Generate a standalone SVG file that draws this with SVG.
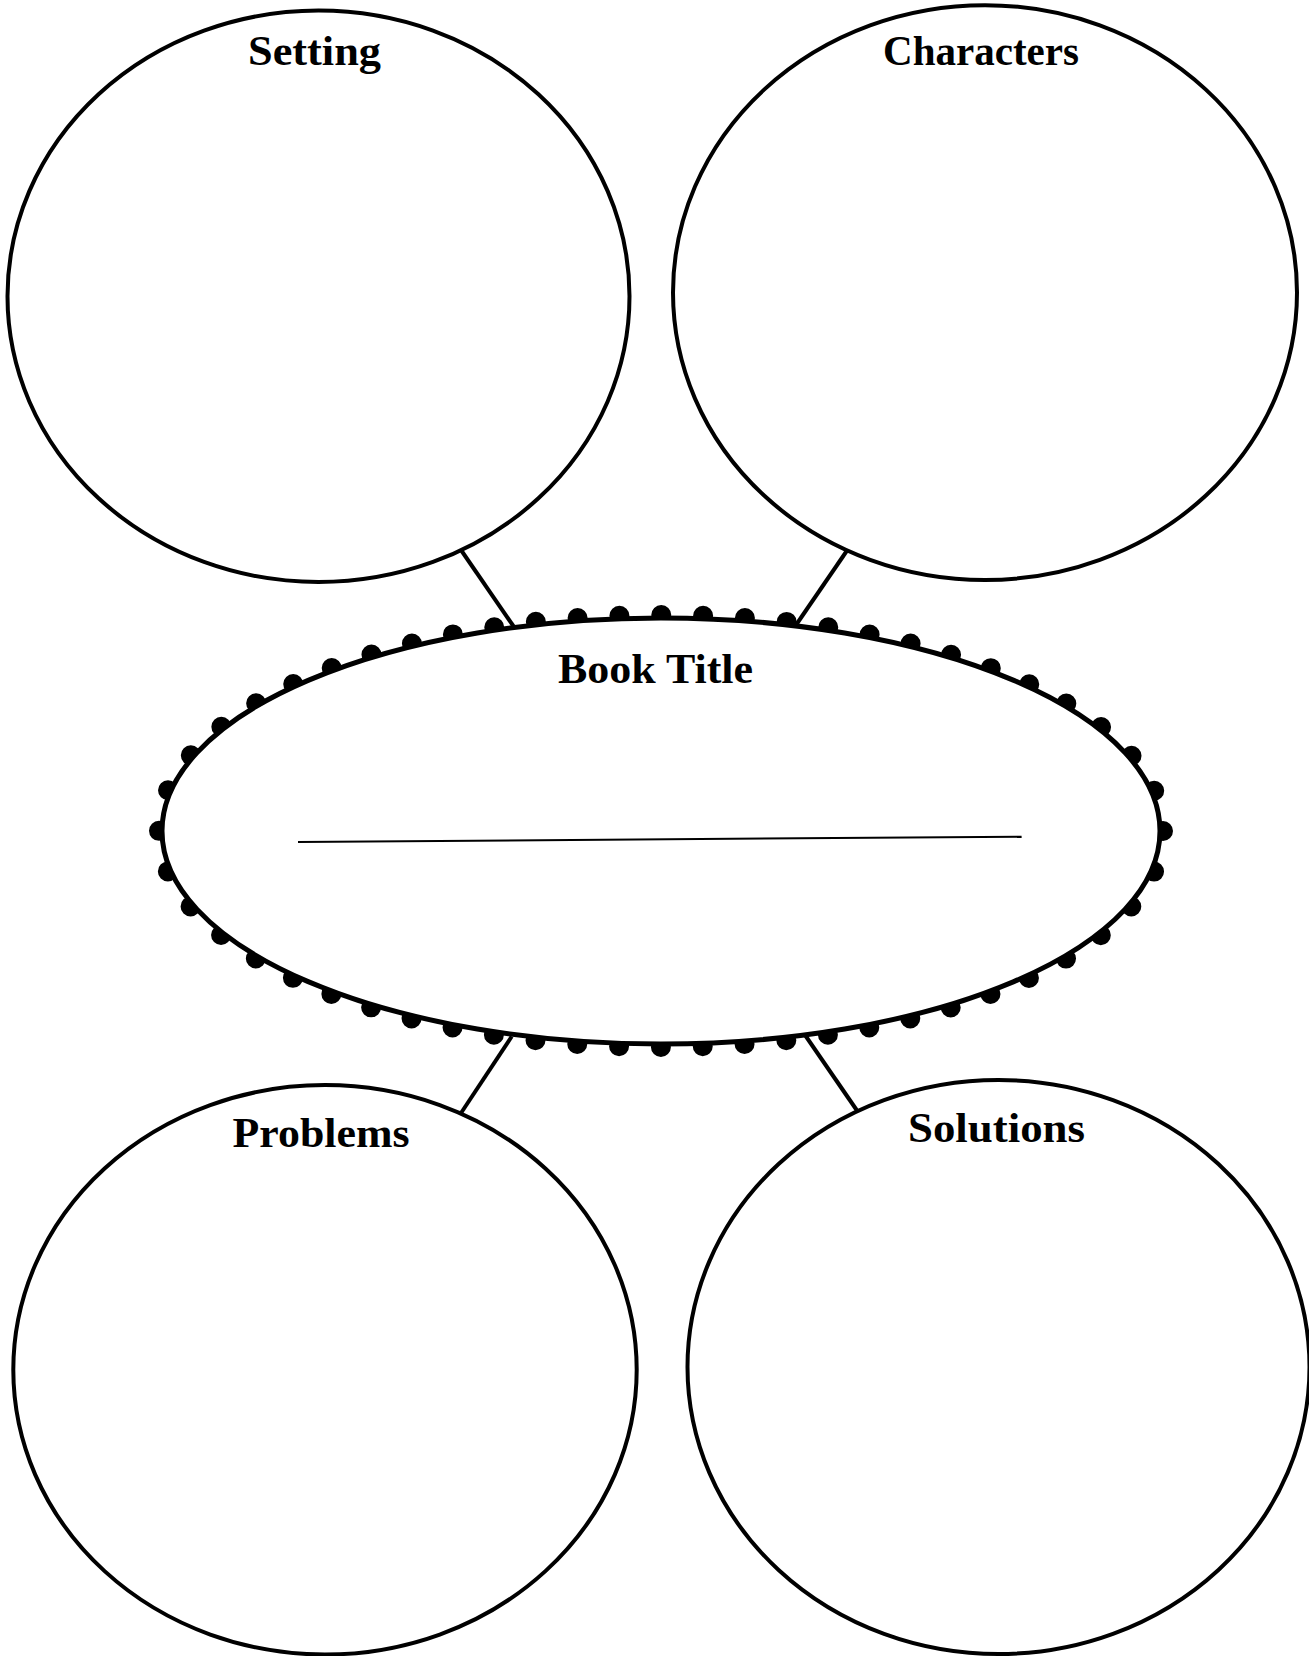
<svg xmlns="http://www.w3.org/2000/svg" width="1309" height="1656" viewBox="0 0 1309 1656">
<style>
.bubble{fill:#fff;stroke:#000;stroke-width:4}
.conn{stroke:#000;stroke-width:4;fill:none}
.lbl{font-family:"Liberation Serif","DejaVu Serif",serif;font-weight:bold;font-size:43px;fill:#000}
.dots{fill:none;stroke:#000;stroke-width:20;stroke-linecap:round;stroke-dasharray:0 41.894}
</style>
<rect width="1309" height="1656" fill="#fff"/>
<g id="connectors">
<line class="conn" x1="461.7" y1="551" x2="514" y2="627"/>
<line class="conn" x1="846.7" y1="551" x2="796" y2="625"/>
<line class="conn" x1="460.7" y1="1113.5" x2="511.7" y2="1036.5"/>
<line class="conn" x1="857.3" y1="1111" x2="805" y2="1035"/>
</g>
<g id="setting">
<ellipse class="bubble" cx="318.5" cy="296.3" rx="311" ry="285.7"/>
<text class="lbl" x="314.5" y="64.5" text-anchor="middle" textLength="133" lengthAdjust="spacingAndGlyphs">Setting</text>
</g>
<g id="characters">
<ellipse class="bubble" cx="985" cy="292.6" rx="312" ry="287.4"/>
<text class="lbl" x="981" y="64.5" text-anchor="middle" textLength="196" lengthAdjust="spacingAndGlyphs">Characters</text>
</g>
<g id="problems">
<ellipse class="bubble" cx="325" cy="1369.8" rx="311.7" ry="284.7"/>
<text class="lbl" x="321" y="1147" text-anchor="middle" textLength="177" lengthAdjust="spacingAndGlyphs">Problems</text>
</g>
<g id="solutions">
<ellipse class="bubble" cx="998.5" cy="1367" rx="311" ry="287"/>
<text class="lbl" x="996.5" y="1142" text-anchor="middle" textLength="177" lengthAdjust="spacingAndGlyphs">Solutions</text>
</g>
<g id="book-title">
<ellipse class="dots" cx="661" cy="831" rx="502" ry="216"/>
<ellipse cx="661" cy="831" rx="499" ry="213" fill="#fff" stroke="#000" stroke-width="5"/>
<text class="lbl" x="655.5" y="683" text-anchor="middle" textLength="195" lengthAdjust="spacingAndGlyphs">Book Title</text>
<line x1="298" y1="842" x2="1021.6" y2="836.7" stroke="#000" stroke-width="2"/>
</g>
</svg>
